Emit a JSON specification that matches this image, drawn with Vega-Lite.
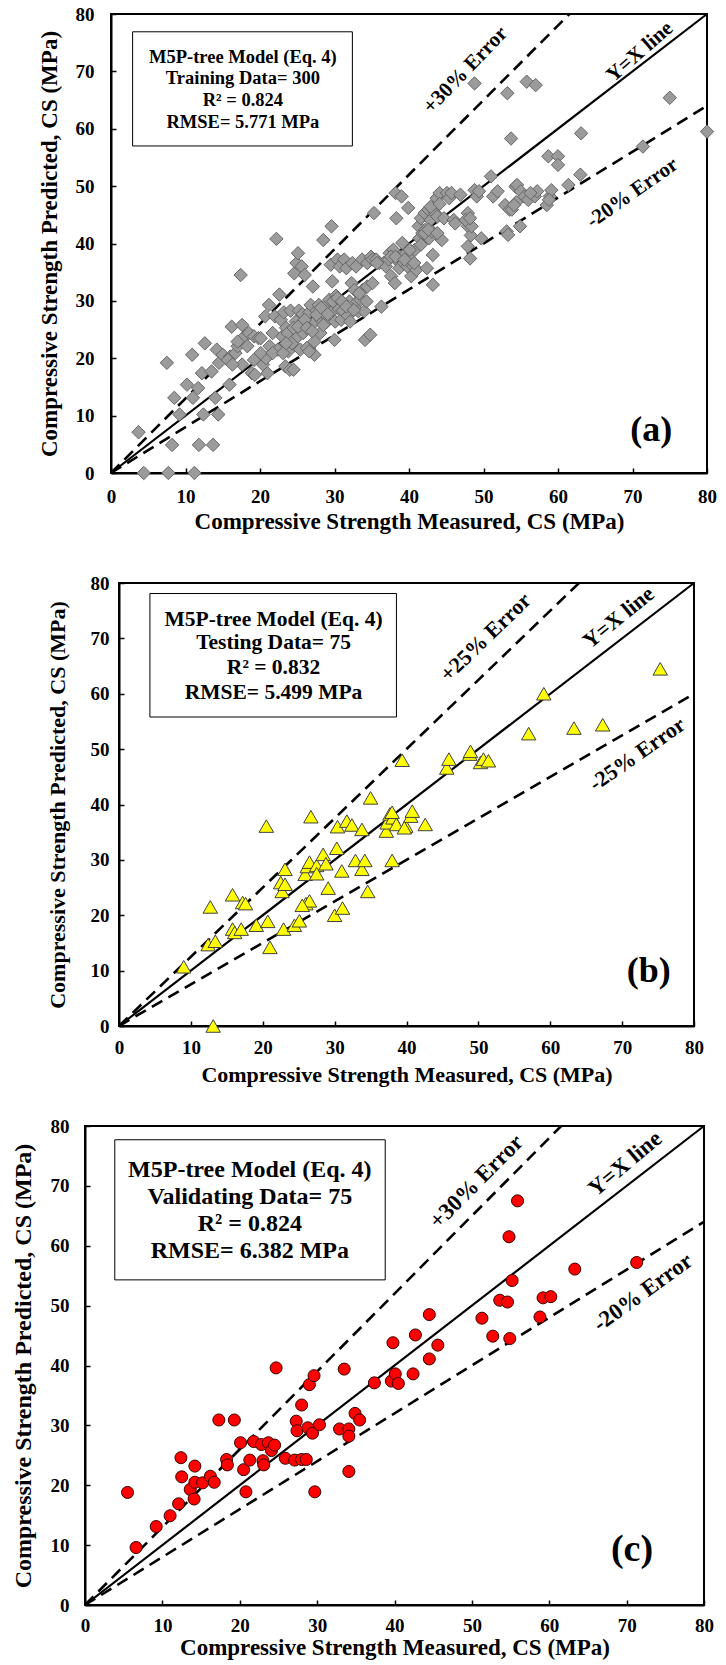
{
"$schema": "https://vega.github.io/schema/vega-lite/v6.json",
"padding": {"left": 0, "top": 4, "right": 0, "bottom": 0},
"background": "white",
"spacing": 0,
"config": {
 "view": {"stroke": null},
 "concat": {"spacing": 0},
 "axis": {"labelFont": "Liberation Serif", "labelFontWeight": "bold", "labelFontSize": 19, "labelColor": "black",
  "titleFont": "Liberation Serif", "titleFontWeight": "bold", "titleFontSize": 22, "titleColor": "black",
  "domainColor": "black", "domainWidth": 2, "tickColor": "black", "tickWidth": 1.5, "tickSize": -5,
  "grid": false, "labelFlush": false, "labelOverlap": false}
},
"datasets": {
 "lines": [
  {"g":"a","id":"yx","s":1,"x":0,"y":0},{"g":"a","id":"yx","s":1,"x":80,"y":80},
  {"g":"a","id":"up","s":0,"x":0,"y":0},{"g":"a","id":"up","s":0,"x":61.54,"y":80},
  {"g":"a","id":"lo","s":0,"x":0,"y":0},{"g":"a","id":"lo","s":0,"x":80,"y":64},
  {"g":"b","id":"yx","s":1,"x":0,"y":0},{"g":"b","id":"yx","s":1,"x":80,"y":80},
  {"g":"b","id":"up","s":0,"x":0,"y":0},{"g":"b","id":"up","s":0,"x":64,"y":80},
  {"g":"b","id":"lo","s":0,"x":0,"y":0},{"g":"b","id":"lo","s":0,"x":80,"y":60},
  {"g":"c","id":"yx","s":1,"x":0,"y":0},{"g":"c","id":"yx","s":1,"x":80,"y":80},
  {"g":"c","id":"up","s":0,"x":0,"y":0},{"g":"c","id":"up","s":0,"x":61.54,"y":80},
  {"g":"c","id":"lo","s":0,"x":0,"y":0},{"g":"c","id":"lo","s":0,"x":80,"y":64}
 ],
 "box": [
  {"g":"a","x":2.9,"x2":32.4,"y":76.9,"y2":57.0},
  {"g":"b","x":4.3,"x2":38.6,"y":78.1,"y2":55.8},
  {"g":"c","x":3.85,"x2":38.8,"y":77.7,"y2":54.3}
 ],
 "txt": [
  {"g":"a","k":"leg","t":"M5P-tree Model (Eq. 4)","x":17.7,"y":72.5},
  {"g":"a","k":"leg","t":"Training Data= 300","x":17.7,"y":68.9},
  {"g":"a","k":"leg","t":"R² = 0.824","x":17.7,"y":65.0},
  {"g":"a","k":"leg","t":"RMSE= 5.771 MPa","x":17.7,"y":61.1},
  {"g":"a","k":"note","t":"+30% Error","x":47.6,"y":70.2,"a":-46},
  {"g":"a","k":"note","t":"Y=X line","x":71.0,"y":73.4,"a":-41},
  {"g":"a","k":"note","t":"-20% Error","x":70.0,"y":48.8,"a":-35},
  {"g":"a","k":"lab","t":"(a)","x":72.5,"y":7.5},
  {"g":"b","k":"leg","t":"M5P-tree Model (Eq. 4)","x":21.5,"y":73.4},
  {"g":"b","k":"leg","t":"Testing Data= 75","x":21.5,"y":69.1},
  {"g":"b","k":"leg","t":"R² = 0.832","x":21.5,"y":64.7},
  {"g":"b","k":"leg","t":"RMSE= 5.499 MPa","x":21.5,"y":60.2},
  {"g":"b","k":"note","t":"+25% Error","x":51.0,"y":70.2,"a":-44},
  {"g":"b","k":"note","t":"Y=X line","x":69.5,"y":73.8,"a":-39},
  {"g":"b","k":"note","t":"-25% Error","x":72.1,"y":49.1,"a":-35},
  {"g":"b","k":"lab","t":"(b)","x":73.7,"y":10.0},
  {"g":"c","k":"leg","t":"M5P-tree  Model (Eq. 4)","x":21.3,"y":72.6},
  {"g":"c","k":"leg","t":"Validating  Data= 75","x":21.3,"y":68.2},
  {"g":"c","k":"leg","t":"R² = 0.824","x":21.3,"y":63.7},
  {"g":"c","k":"leg","t":"RMSE= 6.382 MPa","x":21.3,"y":59.2},
  {"g":"c","k":"note","t":"+30% Error","x":50.6,"y":70.7,"a":-45},
  {"g":"c","k":"note","t":"Y=X line","x":69.8,"y":73.7,"a":-40},
  {"g":"c","k":"note","t":"-20% Error","x":72.1,"y":52.2,"a":-36},
  {"g":"c","k":"lab","t":"(c)","x":70.7,"y":9.2}
 ],
 "a": [
  {"x":3.7,"y":7.1},{"x":4.4,"y":0},{"x":7.7,"y":0},{"x":11.2,"y":0},{"x":7.5,"y":19.2},{"x":8.2,"y":4.9},{"x":8.5,"y":13.1},{"x":9.2,"y":10.2},{"x":10.2,"y":15.4},{"x":10.9,"y":20.6},
  {"x":11.0,"y":13.1},{"x":11.7,"y":14.8},{"x":11.8,"y":4.9},{"x":12.2,"y":17.4},{"x":12.4,"y":10.2},{"x":12.6,"y":22.6},{"x":13.7,"y":4.9},{"x":13.5,"y":17.7},{"x":14.0,"y":13.1},{"x":14.2,"y":21.5},
  {"x":14.4,"y":10.2},{"x":14.5,"y":19.2},{"x":15.0,"y":20.6},{"x":15.9,"y":15.4},{"x":16.0,"y":20.3},{"x":16.2,"y":25.5},{"x":16.7,"y":20.9},{"x":17.0,"y":22.1},{"x":17.4,"y":34.5},{"x":17.6,"y":25.8},
  {"x":17.6,"y":18.9},{"x":17.9,"y":23.8},{"x":18.3,"y":22.1},{"x":18.5,"y":24.4},{"x":18.9,"y":17.4},{"x":19.2,"y":23.8},{"x":19.8,"y":23.5},{"x":20.1,"y":23.5},{"x":20.4,"y":18.9},{"x":20.7,"y":27.3},
  {"x":20.8,"y":20.0},{"x":21.0,"y":17.4},{"x":21.2,"y":29.3},{"x":21.3,"y":22.1},{"x":21.7,"y":24.4},{"x":22.0,"y":27.3},{"x":22.2,"y":40.8},{"x":22.4,"y":21.5},{"x":22.6,"y":31.1},{"x":22.8,"y":26.7},
  {"x":23.0,"y":23.8},{"x":23.2,"y":28.0},{"x":23.4,"y":18.6},{"x":23.5,"y":25.3},{"x":23.7,"y":24.4},{"x":23.8,"y":21.2},{"x":24.0,"y":18.0},{"x":24.1,"y":28.3},{"x":24.3,"y":22.6},{"x":24.5,"y":18.0},
  {"x":24.6,"y":34.8},{"x":24.8,"y":26.4},{"x":24.9,"y":36.6},{"x":25.1,"y":23.8},{"x":25.1,"y":38.3},{"x":25.2,"y":28.3},{"x":25.4,"y":21.5},{"x":25.6,"y":36.0},{"x":25.7,"y":27.7},{"x":25.8,"y":24.4},
  {"x":26.0,"y":34.5},{"x":26.2,"y":26.4},{"x":26.3,"y":21.8},{"x":26.6,"y":28.0},{"x":26.8,"y":29.3},{"x":27.1,"y":32.5},{"x":27.3,"y":22.9},{"x":27.3,"y":20.6},{"x":27.4,"y":26.4},{"x":27.6,"y":28.3},
  {"x":27.9,"y":29.3},{"x":28.1,"y":24.4},{"x":28.2,"y":26.7},{"x":28.5,"y":40.6},{"x":28.7,"y":27.7},{"x":28.8,"y":29.3},{"x":29.0,"y":26.4},{"x":29.3,"y":30.2},{"x":29.5,"y":36.3},{"x":29.6,"y":43.0},
  {"x":29.7,"y":33.4},{"x":29.8,"y":28.3},{"x":30.0,"y":23.2},{"x":30.1,"y":26.4},{"x":30.2,"y":30.9},{"x":30.4,"y":37.2},{"x":30.6,"y":28.6},{"x":30.7,"y":36.0},{"x":30.9,"y":26.7},{"x":31.1,"y":28.3},
  {"x":31.3,"y":37.2},{"x":31.6,"y":35.7},{"x":31.8,"y":27.4},{"x":32.0,"y":29.9},{"x":32.1,"y":26.4},{"x":32.3,"y":33.1},{"x":32.4,"y":36.6},{"x":32.7,"y":31.9},{"x":32.9,"y":36.0},{"x":33.1,"y":29.9},
  {"x":33.2,"y":28.2},{"x":33.5,"y":30.2},{"x":33.7,"y":37.2},{"x":33.8,"y":31.9},{"x":34.0,"y":28.2},{"x":34.1,"y":23.2},{"x":34.3,"y":29.9},{"x":34.4,"y":36.6},{"x":34.8,"y":24.1},{"x":34.9,"y":37.7},
  {"x":35.1,"y":37.2},{"x":35.3,"y":45.3},{"x":35.6,"y":37.2},{"x":36.0,"y":36.6},{"x":36.3,"y":29.0},{"x":36.6,"y":36.6},{"x":36.9,"y":36.0},{"x":37.3,"y":37.2},{"x":37.4,"y":38.3},{"x":37.6,"y":34.3},
  {"x":37.9,"y":38.9},{"x":38.1,"y":33.1},{"x":38.2,"y":48.8},{"x":38.3,"y":44.4},{"x":38.5,"y":36.9},{"x":38.7,"y":35.7},{"x":38.8,"y":37.7},{"x":39.0,"y":48.2},{"x":39.1,"y":40.1},{"x":39.3,"y":36.6},
  {"x":39.6,"y":38.3},{"x":39.8,"y":36.0},{"x":39.9,"y":46.2},{"x":40.1,"y":37.4},{"x":40.3,"y":34.3},{"x":40.6,"y":36.0},{"x":40.8,"y":38.9},{"x":41.0,"y":35.4},{"x":41.3,"y":43.0},{"x":41.4,"y":40.9},
  {"x":41.6,"y":44.4},{"x":41.8,"y":41.8},{"x":42.1,"y":45.3},{"x":42.2,"y":42.4},{"x":42.4,"y":35.7},{"x":42.6,"y":45.9},{"x":42.7,"y":40.9},{"x":42.9,"y":44.1},{"x":43.1,"y":42.1},{"x":43.2,"y":38.0},
  {"x":43.2,"y":32.8},{"x":43.4,"y":46.4},{"x":43.5,"y":45.3},{"x":43.7,"y":47.9},{"x":43.8,"y":44.7},{"x":44.1,"y":48.8},{"x":44.4,"y":40.6},{"x":44.7,"y":44.4},{"x":45.1,"y":48.8},{"x":45.4,"y":47.9},
  {"x":45.7,"y":48.8},{"x":46.0,"y":44.1},{"x":46.2,"y":43.5},{"x":46.9,"y":48.5},{"x":47.9,"y":45.3},{"x":47.9,"y":43.0},{"x":47.9,"y":39.5},{"x":48.2,"y":37.4},{"x":48.3,"y":41.4},{"x":48.4,"y":43.0},
  {"x":48.8,"y":67.9},{"x":48.8,"y":49.3},{"x":49.1,"y":48.2},{"x":49.4,"y":49.1},{"x":49.7,"y":40.9},{"x":51.0,"y":51.7},{"x":51.3,"y":48.2},{"x":51.9,"y":49.1},{"x":52.9,"y":46.7},{"x":53.1,"y":42.1},
  {"x":53.2,"y":66.2},{"x":53.3,"y":41.5},{"x":53.5,"y":45.9},{"x":53.7,"y":58.3},{"x":53.8,"y":45.9},{"x":54.3,"y":49.9},{"x":54.4,"y":47.2},{"x":54.5,"y":50.2},{"x":54.9,"y":43.0},{"x":55.0,"y":49.1},
  {"x":55.5,"y":48.2},{"x":55.8,"y":68.2},{"x":56.0,"y":47.6},{"x":56.9,"y":48.2},{"x":57.0,"y":67.6},{"x":57.2,"y":49.1},{"x":58.5,"y":46.7},{"x":58.7,"y":55.2},{"x":58.9,"y":48.2},{"x":59.1,"y":49.3},
  {"x":60.0,"y":55.2},{"x":60.0,"y":53.7},{"x":61.4,"y":50.2},{"x":63.0,"y":52.0},{"x":63.1,"y":59.2},{"x":71.4,"y":56.9},{"x":75.0,"y":65.4},{"x":80.0,"y":59.5},
  {"x":15.7,"y":19.7},{"x":16.3,"y":18.9},{"x":17.0,"y":22.9},{"x":19.2,"y":19.7},{"x":19.3,"y":17.1},{"x":20.1,"y":20.9},{"x":21.7,"y":20.9},{"x":23.1,"y":20.9},{"x":23.5,"y":22.6},{"x":24.5,"y":25.3},
  {"x":25.1,"y":25.5},{"x":26.0,"y":26.7},{"x":26.3,"y":25.3},{"x":26.6,"y":21.2},{"x":27.0,"y":24.7},{"x":27.6,"y":27.6},{"x":28.2,"y":28.8},{"x":28.5,"y":25.8},{"x":29.1,"y":27.7},{"x":29.8,"y":29.9},
  {"x":30.4,"y":30.5},{"x":31.0,"y":29.9},{"x":31.6,"y":29.0},{"x":32.6,"y":28.4},{"x":33.3,"y":31.3},{"x":34.4,"y":32.5},{"x":35.1,"y":33.1},{"x":35.7,"y":36.6},{"x":37.6,"y":37.7},{"x":38.2,"y":37.7},
  {"x":39.4,"y":37.2},{"x":40.1,"y":38.9},{"x":40.7,"y":36.6},{"x":41.6,"y":39.8},{"x":42.1,"y":41.8},{"x":42.6,"y":42.4},{"x":42.9,"y":46.4},{"x":43.8,"y":41.8},{"x":44.1,"y":46.9},{"x":47.6,"y":44.1},
  {"x":48.2,"y":44.4},{"x":54.1,"y":46.7},{"x":56.3,"y":48.8},{"x":58.8,"y":47.6}
 ],
 "b": [
  {"x":9.0,"y":10.7},{"x":12.4,"y":14.7},{"x":12.7,"y":21.5},{"x":13.1,"y":0},{"x":13.4,"y":15.3},{"x":15.8,"y":23.7},{"x":15.8,"y":17.5},{"x":16.1,"y":16.9},{"x":17.0,"y":17.5},{"x":17.2,"y":22.3},
  {"x":17.6,"y":22.1},{"x":19.1,"y":18.2},{"x":20.5,"y":36.1},{"x":20.7,"y":18.9},{"x":21.0,"y":14.2},{"x":22.5,"y":25.9},{"x":22.7,"y":24.3},{"x":23.1,"y":28.3},{"x":23.1,"y":25.6},{"x":22.9,"y":17.5},
  {"x":24.4,"y":18.2},{"x":25.1,"y":19.0},{"x":25.9,"y":27.4},{"x":26.0,"y":22.1},{"x":26.2,"y":28.8},{"x":26.5,"y":22.6},{"x":26.5,"y":29.6},{"x":26.7,"y":37.8},{"x":27.5,"y":29.0},{"x":27.5,"y":27.5},
  {"x":28.4,"y":31.0},{"x":28.8,"y":29.3},{"x":29.1,"y":24.9},{"x":30.0,"y":20.0},{"x":30.3,"y":32.1},{"x":30.4,"y":36.0},{"x":31.0,"y":28.0},{"x":31.1,"y":21.3},{"x":31.7,"y":37.0},{"x":32.4,"y":36.3},
  {"x":32.9,"y":29.9},{"x":33.8,"y":35.5},{"x":33.8,"y":28.3},{"x":34.2,"y":29.9},{"x":34.6,"y":24.3},{"x":35.0,"y":41.2},{"x":37.2,"y":35.2},{"x":37.3,"y":36.7},{"x":37.7,"y":38.3},{"x":38.0,"y":29.9},
  {"x":38.1,"y":37.6},{"x":38.6,"y":36.4},{"x":39.4,"y":48.0},{"x":39.9,"y":36.1},{"x":40.6,"y":37.9},{"x":40.8,"y":38.8},{"x":42.6,"y":36.4},{"x":45.6,"y":46.6},{"x":45.9,"y":48.2},{"x":48.8,"y":49.1},
  {"x":48.9,"y":49.6},{"x":50.3,"y":47.6},{"x":50.7,"y":48.2},{"x":51.4,"y":47.9},{"x":57.0,"y":52.8},{"x":59.1,"y":60.0},{"x":63.3,"y":53.8},{"x":67.3,"y":54.4},{"x":75.3,"y":64.5},{"x":25.5,"y":21.8},
  {"x":39.7,"y":35.8},{"x":38.0,"y":38.6}
 ],
 "c": [
  {"x":5.5,"y":18.8},{"x":6.6,"y":9.6},{"x":9.2,"y":13.1},{"x":11.0,"y":14.9},{"x":12.1,"y":16.9},{"x":12.4,"y":24.6},{"x":12.5,"y":21.4},{"x":13.6,"y":19.3},{"x":14.1,"y":17.7},{"x":14.2,"y":23.2},
  {"x":14.2,"y":20.5},{"x":15.2,"y":20.4},{"x":16.2,"y":21.5},{"x":16.7,"y":20.5},{"x":17.3,"y":30.9},{"x":18.3,"y":24.3},{"x":18.4,"y":23.4},{"x":19.3,"y":30.9},{"x":20.1,"y":27.1},{"x":20.5,"y":22.6},
  {"x":20.8,"y":18.9},{"x":21.3,"y":24.2},{"x":21.8,"y":27.3},{"x":22.8,"y":26.8},{"x":23.0,"y":24.1},{"x":23.1,"y":23.4},{"x":23.7,"y":27.1},{"x":24.1,"y":25.8},{"x":24.5,"y":26.7},{"x":24.7,"y":39.6},
  {"x":25.9,"y":24.5},{"x":27.1,"y":24.2},{"x":27.3,"y":30.7},{"x":27.4,"y":29.1},{"x":28.0,"y":33.4},{"x":28.0,"y":24.3},{"x":28.6,"y":24.3},{"x":28.8,"y":29.6},{"x":29.0,"y":36.8},{"x":29.4,"y":28.7},
  {"x":29.6,"y":38.3},{"x":29.7,"y":18.9},{"x":30.3,"y":30.1},{"x":32.9,"y":29.4},{"x":33.5,"y":39.4},{"x":34.1,"y":29.4},{"x":34.1,"y":28.2},{"x":34.1,"y":22.3},{"x":34.9,"y":32.0},{"x":35.5,"y":30.9},
  {"x":37.4,"y":37.1},{"x":39.6,"y":37.4},{"x":39.8,"y":43.8},{"x":40.1,"y":38.6},{"x":40.5,"y":37.0},{"x":42.4,"y":38.6},{"x":42.7,"y":45.1},{"x":44.5,"y":48.5},{"x":44.5,"y":41.1},{"x":45.6,"y":43.4},
  {"x":51.3,"y":47.9},{"x":52.7,"y":44.9},{"x":53.6,"y":50.9},{"x":54.6,"y":50.6},{"x":54.8,"y":61.5},{"x":54.9,"y":44.5},{"x":55.2,"y":54.2},{"x":55.9,"y":67.5},{"x":58.8,"y":48.1},{"x":59.2,"y":51.3},
  {"x":60.2,"y":51.5},{"x":63.3,"y":56.1},{"x":71.3,"y":57.2}
 ]
},
"vconcat": [
 {"spacing": 0, "hconcat": [
  {"data": {"values": []}, "mark": "point", "encoding": {}, "width": 37, "height": 559},
  {"width": 596, "height": 459, "view": {"stroke": "black", "strokeWidth": 2},
   "encoding": {
    "x": {"field": "x", "type": "quantitative", "scale": {"domain": [0, 80], "nice": false, "zero": false},
          "axis": {"values": [0,10,20,30,40,50,60,70,80], "title": "Compressive Strength Measured, CS (MPa)", "titleFontSize": 23, "labelPadding": 19.5, "titlePadding": 3.5}},
    "y": {"field": "y", "type": "quantitative", "scale": {"domain": [0, 80], "nice": false, "zero": false},
          "axis": {"values": [0,10,20,30,40,50,60,70,80], "title": "Compressive Strength Predicted, CS (MPa)", "titleFontSize": 23, "labelPadding": 22, "titlePadding": 14}}
   },
   "layer": [
    {"data": {"name": "lines"}, "transform": [{"filter": "datum.g=='a' && datum.s==1"}], "mark": {"type": "line", "color": "black", "strokeWidth": 2.2}, "encoding": {"detail": {"field": "id"}}},
    {"data": {"name": "lines"}, "transform": [{"filter": "datum.g=='a' && datum.s==0"}], "mark": {"type": "line", "color": "black", "strokeWidth": 2.6, "strokeDash": [12, 7]}, "encoding": {"detail": {"field": "id"}}},
    {"data": {"name": "box"}, "transform": [{"filter": "datum.g=='a'"}], "mark": {"type": "rect", "fill": "white", "stroke": "black", "strokeWidth": 1}, "encoding": {"x2": {"field": "x2"}, "y2": {"field": "y2"}}},
    {"data": {"name": "a"}, "mark": {"type": "point", "shape": "diamond", "filled": true, "fill": "#9b9b9b", "stroke": "#666666", "strokeWidth": 1, "size": 180, "opacity": 1}},
    {"data": {"name": "txt"}, "transform": [{"filter": "datum.g=='a' && datum.k=='leg'"}], "mark": {"type": "text", "font": "Liberation Serif", "fontWeight": "bold", "fontSize": 18.5, "color": "black"}, "encoding": {"text": {"field": "t"}}},
    {"data": {"name": "txt"}, "transform": [{"filter": "datum.g=='a' && datum.k=='note'"}], "mark": {"type": "text", "font": "Liberation Serif", "fontWeight": "bold", "fontSize": 21, "color": "black"}, "encoding": {"text": {"field": "t"}, "angle": {"field": "a", "type": "quantitative", "scale": null}}},
    {"data": {"name": "txt"}, "transform": [{"filter": "datum.g=='a' && datum.k=='lab'"}], "mark": {"type": "text", "font": "Liberation Serif", "fontWeight": "bold", "fontSize": 36, "color": "black"}, "encoding": {"text": {"field": "t"}}}
   ]
  }
 ]},
 {"spacing": 0, "hconcat": [
  {"data": {"values": []}, "mark": "point", "encoding": {}, "width": 45, "height": 533},
  {"width": 575, "height": 443, "view": {"stroke": "black", "strokeWidth": 2},
   "encoding": {
    "x": {"field": "x", "type": "quantitative", "scale": {"domain": [0, 80], "nice": false, "zero": false},
          "axis": {"values": [0,10,20,30,40,50,60,70,80], "title": "Compressive Strength Measured, CS (MPa)", "labelPadding": 17.5, "titlePadding": 6.5}},
    "y": {"field": "y", "type": "quantitative", "scale": {"domain": [0, 80], "nice": false, "zero": false},
          "axis": {"values": [0,10,20,30,40,50,60,70,80], "title": "Compressive Strength Predicted, CS (MPa)", "labelPadding": 15, "titlePadding": 21}}
   },
   "layer": [
    {"data": {"name": "lines"}, "transform": [{"filter": "datum.g=='b' && datum.s==1"}], "mark": {"type": "line", "color": "black", "strokeWidth": 2.2}, "encoding": {"detail": {"field": "id"}}},
    {"data": {"name": "lines"}, "transform": [{"filter": "datum.g=='b' && datum.s==0"}], "mark": {"type": "line", "color": "black", "strokeWidth": 2.6, "strokeDash": [12, 7]}, "encoding": {"detail": {"field": "id"}}},
    {"data": {"name": "box"}, "transform": [{"filter": "datum.g=='b'"}], "mark": {"type": "rect", "fill": "white", "stroke": "black", "strokeWidth": 1}, "encoding": {"x2": {"field": "x2"}, "y2": {"field": "y2"}}},
    {"data": {"name": "b"}, "mark": {"type": "point", "shape": "triangle-up", "filled": true, "fill": "#ffff00", "stroke": "#404040", "strokeWidth": 1, "size": 210, "opacity": 1}},
    {"data": {"name": "txt"}, "transform": [{"filter": "datum.g=='b' && datum.k=='leg'"}], "mark": {"type": "text", "font": "Liberation Serif", "fontWeight": "bold", "fontSize": 21.5, "color": "black"}, "encoding": {"text": {"field": "t"}}},
    {"data": {"name": "txt"}, "transform": [{"filter": "datum.g=='b' && datum.k=='note'"}], "mark": {"type": "text", "font": "Liberation Serif", "fontWeight": "bold", "fontSize": 22, "color": "black"}, "encoding": {"text": {"field": "t"}, "angle": {"field": "a", "type": "quantitative", "scale": null}}},
    {"data": {"name": "txt"}, "transform": [{"filter": "datum.g=='b' && datum.k=='lab'"}], "mark": {"type": "text", "font": "Liberation Serif", "fontWeight": "bold", "fontSize": 36, "color": "black"}, "encoding": {"text": {"field": "t"}}}
   ]
  }
 ]},
 {"spacing": 0, "hconcat": [
  {"data": {"values": []}, "mark": "point", "encoding": {}, "width": 10, "height": 1},
  {"width": 619, "height": 479, "view": {"stroke": "black", "strokeWidth": 2},
   "encoding": {
    "x": {"field": "x", "type": "quantitative", "scale": {"domain": [0, 80], "nice": false, "zero": false},
          "axis": {"values": [0,10,20,30,40,50,60,70,80], "title": "Compressive Strength Measured, CS (MPa)", "titleFontSize": 23, "labelPadding": 16, "titlePadding": 1}},
    "y": {"field": "y", "type": "quantitative", "scale": {"domain": [0, 80], "nice": false, "zero": false},
          "axis": {"values": [0,10,20,30,40,50,60,70,80], "title": "Compressive Strength Predicted, CS (MPa)", "labelPadding": 21, "titlePadding": 15, "titleFontSize": 24}}
   },
   "layer": [
    {"data": {"name": "lines"}, "transform": [{"filter": "datum.g=='c' && datum.s==1"}], "mark": {"type": "line", "color": "black", "strokeWidth": 2.2}, "encoding": {"detail": {"field": "id"}}},
    {"data": {"name": "lines"}, "transform": [{"filter": "datum.g=='c' && datum.s==0"}], "mark": {"type": "line", "color": "black", "strokeWidth": 2.6, "strokeDash": [12, 7]}, "encoding": {"detail": {"field": "id"}}},
    {"data": {"name": "box"}, "transform": [{"filter": "datum.g=='c'"}], "mark": {"type": "rect", "fill": "white", "stroke": "black", "strokeWidth": 1}, "encoding": {"x2": {"field": "x2"}, "y2": {"field": "y2"}}},
    {"data": {"name": "c"}, "mark": {"type": "point", "shape": "circle", "filled": true, "fill": "#ff0000", "stroke": "#3a0000", "strokeWidth": 1, "size": 145, "opacity": 1}},
    {"data": {"name": "txt"}, "transform": [{"filter": "datum.g=='c' && datum.k=='leg'"}], "mark": {"type": "text", "font": "Liberation Serif", "fontWeight": "bold", "fontSize": 24, "color": "black"}, "encoding": {"text": {"field": "t"}}},
    {"data": {"name": "txt"}, "transform": [{"filter": "datum.g=='c' && datum.k=='note'"}], "mark": {"type": "text", "font": "Liberation Serif", "fontWeight": "bold", "fontSize": 23, "color": "black"}, "encoding": {"text": {"field": "t"}, "angle": {"field": "a", "type": "quantitative", "scale": null}}},
    {"data": {"name": "txt"}, "transform": [{"filter": "datum.g=='c' && datum.k=='lab'"}], "mark": {"type": "text", "font": "Liberation Serif", "fontWeight": "bold", "fontSize": 38, "color": "black"}, "encoding": {"text": {"field": "t"}}}
   ]
  }
 ]}
]
}
